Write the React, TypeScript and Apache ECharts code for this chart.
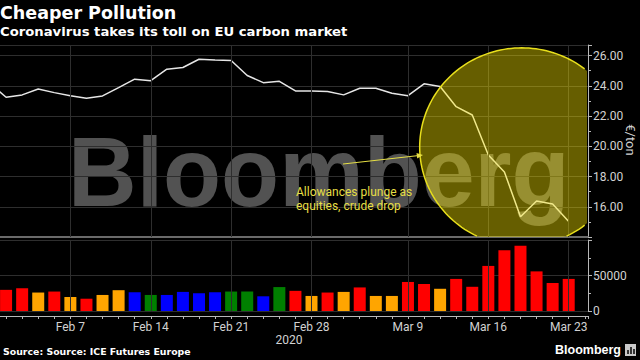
import React, { useEffect, useRef } from 'react';
import * as echarts from 'echarts';

// Trading days; "Jan 31" sits just left of the visible window (x index -1)
const dates = ['Jan 31','Feb 3','Feb 4','Feb 5','Feb 6','Feb 7','Feb 10','Feb 11','Feb 12','Feb 13','Feb 14','Feb 17','Feb 18','Feb 19','Feb 20','Feb 21','Feb 24','Feb 25','Feb 26','Feb 27','Feb 28','Mar 2','Mar 3','Mar 4','Mar 5','Mar 6','Mar 9','Mar 10','Mar 11','Mar 12','Mar 13','Mar 16','Mar 17','Mar 18','Mar 19','Mar 20','Mar 23'];

// EU carbon allowance price, €/ton
const price = [24.17,23.24,23.40,23.79,23.55,23.35,23.18,23.33,23.88,24.44,24.34,25.10,25.21,25.76,25.70,25.67,24.68,24.21,24.30,23.66,23.66,23.62,23.40,23.84,23.84,23.51,23.35,24.13,23.95,22.62,22.07,19.42,18.30,15.34,16.38,16.18,15.03];

// Volume, Feb 3 .. Mar 23
const volume = [29800,32200,26000,27400,19700,17300,22600,29300,26400,22600,22600,26900,25000,26400,27400,27400,20700,33700,28400,21200,26000,26900,33200,21200,21200,40900,38000,31300,45200,34100,63500,85600,91800,55800,39400,45200];
const volumeColorKeys = ['R','R','O','R','O','R','O','O','B','G','B','B','B','B','G','G','B','G','R','O','R','O','R','O','O','R','R','O','R','R','R','R','R','R','R','R'];

const xTickLabels = ['Feb 7','Feb 14','Feb 21','Feb 28','Mar 9','Mar 16','Mar 23'];
const yearLabel = '2020';
const priceUnit = '€/ton';

// annotation circle (data units on the price panel)
const circleCenter = [32.08, 19.95];
const circleRadius = [6.35, 6.56];

const colorMap: Record<string, string> = { R: '#ff0000', O: '#ffa500', B: '#0000ff', G: '#008000' };

// the chart canvas starts 10px left of the page so the plot can bleed off the left edge
const SHIFT = 10;

export default function App() {
  const ref = useRef<HTMLDivElement>(null);
  useEffect(() => {
    document.body.style.margin = '0';
    document.body.style.background = '#000';
    const chart = echarts.init(ref.current!, null, { renderer: 'svg' });
    const xIndexOf = (d: string) => dates.indexOf(d) - 1;
    const tickIdx = xTickLabels.map(xIndexOf);
    const labelMap: Record<number, string> = {};
    xTickLabels.forEach((l) => { labelMap[xIndexOf(l)] = l; });
    const labelColor = '#d2d2d2';
    const gridColor = '#2e2e2e';
    const font = 'Roboto';
    const X = (x: number) => x + SHIFT;
    const vLines = {
      silent: true, symbol: ['none', 'none'], label: { show: false },
      lineStyle: { color: gridColor, width: 1, type: 'solid' },
      data: tickIdx.map((i) => ({ xAxis: i })),
    };
    const txt = (text: string, x: number, y: number, size: number, family: string, weight: string, fill: string, extra: any = {}, scaleX = 1) => ({
      type: 'text', x, y, z: 100, silent: true, scaleX,
      style: { text, fill, fontSize: size, fontFamily: family, fontWeight: weight, verticalAlign: 'middle', ...extra },
    });
    const option: any = {
      animation: false,
      backgroundColor: '#000',
      grid: [
        { left: 0, right: 52, top: 45, height: 192, outerBoundsMode: 'none', containLabel: false },
        { left: 0, right: 52, top: 240, height: 71, outerBoundsMode: 'none', containLabel: false },
      ],
      xAxis: [
        {
          gridIndex: 0, type: 'value', min: -1, max: 36.2, interval: 1,
          axisLine: { show: true, onZero: false, lineStyle: { color: '#6a6a6a', width: 2 } },
          axisTick: { show: false }, axisLabel: { show: false }, splitLine: { show: false },
        },
        {
          gridIndex: 1, type: 'value', min: -1, max: 36.2, interval: 1, offset: 5,
          axisLine: { show: true, onZero: false, lineStyle: { color: '#b8b8b8', width: 1 } },
          axisTick: { show: true, length: 3, lineStyle: { color: '#b8b8b8' } },
          axisLabel: { color: labelColor, fontFamily: font, fontSize: 12, margin: 5, formatter: (v: number) => labelMap[Math.round(v)] ?? '' },
          splitLine: { show: false },
          name: yearLabel, nameLocation: 'middle', nameGap: 16,
          nameTextStyle: { color: labelColor, fontFamily: font, fontSize: 12 },
        },
      ],
      yAxis: [
        {
          gridIndex: 0, type: 'value', position: 'right', min: 14, max: 26.7, interval: 2,
          axisLine: { show: true, onZero: false, lineStyle: { color: '#b8b8b8' } },
          axisTick: { show: true, length: 4, lineStyle: { color: '#b8b8b8' } },
          minorTick: { show: true, splitNumber: 2, length: 3, lineStyle: { color: '#b8b8b8' } },
          axisLabel: { color: labelColor, fontFamily: font, fontSize: 12, margin: 5, showMinLabel: false, showMaxLabel: false, formatter: (v: number) => v.toFixed(2) },
          splitLine: { show: true, lineStyle: { color: gridColor } },
        },
        {
          gridIndex: 1, type: 'value', position: 'right', min: 0, max: 100000, interval: 50000,
          axisLine: { show: true, onZero: false, lineStyle: { color: '#b8b8b8' } },
          axisTick: { show: true, length: 4, lineStyle: { color: '#b8b8b8' } },
          minorTick: { show: true, splitNumber: 2, length: 3, lineStyle: { color: '#b8b8b8' } },
          axisLabel: { color: labelColor, fontFamily: font, fontSize: 12, margin: 5, showMaxLabel: false, formatter: (v: number) => String(Math.round(v)) },
          splitLine: { show: true, lineStyle: { color: gridColor } },
        },
      ],
      series: [
        { type: 'scatter', xAxisIndex: 0, yAxisIndex: 0, data: [], z: 1, markLine: vLines },
        { type: 'scatter', xAxisIndex: 1, yAxisIndex: 1, data: [], z: 1, markLine: vLines },
        { type: 'line', xAxisIndex: 0, yAxisIndex: 0, z: 3, symbol: 'none', silent: true, data: price.map((v, k) => [k - 1, v]), lineStyle: { color: '#e6e6e6', width: 1.5 } },
        { type: 'bar', xAxisIndex: 1, yAxisIndex: 1, z: 3, barWidth: 12, silent: true, data: volume.map((v, j) => ({ value: [j, v], itemStyle: { color: colorMap[volumeColorKeys[j]] } })) },
        {
          type: 'custom', xAxisIndex: 0, yAxisIndex: 0, z: 5, silent: true, data: [circleCenter],
          renderItem: (params: any, api: any) => {
            const c = api.coord([api.value(0), api.value(1)]);
            const sz = api.size([circleRadius[0], circleRadius[1]]);
            const cs = params.coordSys;
            const x0 = cs.x, x1 = cs.x + cs.width - 1, y0 = cs.y, y1 = cs.y + cs.height;
            const pts: number[][] = []; const runs: number[][][] = []; let run: number[][] | null = null;
            for (let a = 0; a <= 360; a += 2) {
              const t = (a * Math.PI) / 180;
              const px = c[0] + sz[0] * Math.cos(t), py = c[1] + sz[1] * Math.sin(t);
              const qx = Math.min(x1, Math.max(x0, px)), qy = Math.min(y1, Math.max(y0, py));
              pts.push([qx, qy]);
              if (qx === px && qy === py) { if (!run) { run = []; runs.push(run); } run.push([px, py]); } else run = null;
            }
            return { type: 'group', children: [
              { type: 'polygon', shape: { points: pts }, style: { fill: 'rgba(255,236,0,0.4)' } },
              ...runs.map((r) => ({ type: 'polyline', shape: { points: r }, style: { fill: 'none', stroke: '#e8df1c', lineWidth: 1.5 } })),
            ] };
          },
        },
      ],
      graphic: [
        { type: 'text', x: X(68), y: 172, z: 0, scaleX: 0.96, silent: true, style: { text: 'Bloomberg', fill: 'rgba(255,255,255,0.32)', fontSize: 99, fontWeight: 'bold', fontFamily: 'Liberation Sans', verticalAlign: 'middle' } },
        txt('Cheaper Pollution', X(0), 13, 17.5, 'DejaVu Sans', 'bold', '#ffffff'),
        txt('Coronavirus takes its toll on EU carbon market', X(0), 32, 12, 'DejaVu Sans', 'bold', '#ffffff', {}, 1.1),
        { type: 'text', x: X(630), y: 140, rotation: -Math.PI / 2, z: 100, silent: true,
          style: { text: priceUnit, fill: labelColor, fontSize: 13, fontFamily: font, align: 'center', verticalAlign: 'middle' } },
        txt('Allowances plunge as\nequities, crude drop', X(296), 185, 12, 'Roboto', 'normal', '#e6df45', { lineHeight: 14, verticalAlign: 'top' }),
        { type: 'line', z: 100, shape: { x1: X(343), y1: 164, x2: X(419), y2: 155.5 }, style: { stroke: '#e6df45', lineWidth: 1 } },
        { type: 'polygon', z: 100, shape: { points: [[X(423), 155], [X(416.5), 153], [X(417.2), 158.5]] }, style: { fill: '#e6df45' } },
        txt('Source: Source: ICE Futures Europe', X(3), 351, 9.4, 'DejaVu Sans', 'bold', '#ffffff'),
        txt('Bloomberg', X(621), 350, 12.5, 'Liberation Sans', 'bold', '#ffffff', { align: 'right' }),
        { type: 'rect', z: 100, shape: { x: X(625), y: 344, width: 11, height: 12 }, style: { fill: '#c8c8c8' } },
        { type: 'rect', z: 101, shape: { x: X(627), y: 350, width: 2, height: 4 }, style: { fill: '#333' } },
        { type: 'rect', z: 101, shape: { x: X(630), y: 347, width: 2, height: 7 }, style: { fill: '#333' } },
        { type: 'rect', z: 101, shape: { x: X(633), y: 349, width: 2, height: 5 }, style: { fill: '#333' } },
      ],
    };
    chart.setOption(option);
    return () => chart.dispose();
  }, []);
  return (
    <div style={{ position: 'relative', width: 640, height: 360, overflow: 'hidden', background: '#000' }}>
      <div ref={ref} style={{ position: 'absolute', left: -SHIFT, top: 0, width: 640 + SHIFT, height: 360 }} />
    </div>
  );
}
